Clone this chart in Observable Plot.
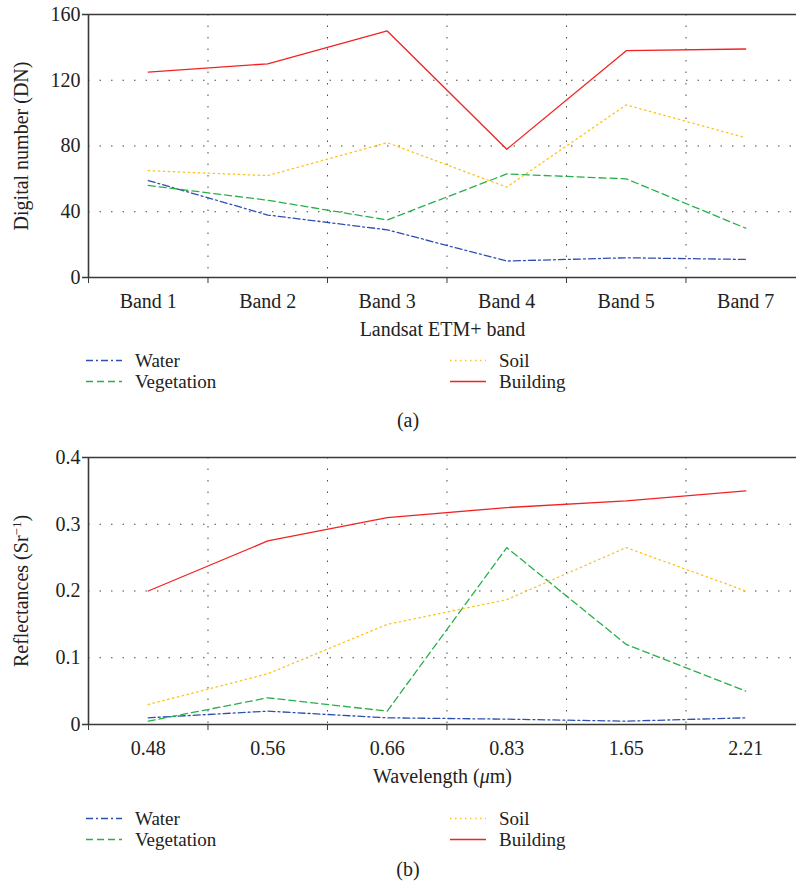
<!DOCTYPE html>
<html><head><meta charset="utf-8">
<script src="https://cdn.jsdelivr.net/npm/d3@7"></script>
<script src="https://cdn.jsdelivr.net/npm/@observablehq/plot@0.6"></script>
<style>
body{margin:0;background:#fff;font-family:"Liberation Serif",serif;color:#222}
#root{position:relative;width:796px;height:890px;overflow:hidden;background:#fff}
.panel{position:absolute;left:0}
.leg{position:absolute;font-size:19px;line-height:17px;white-space:nowrap;height:17px}
.leg svg{vertical-align:top}
.cap{position:absolute;font-size:20px;line-height:20px;transform:translateX(-50%)}
</style></head><body><div id="root"></div>
<script>
// ---- data ----
const seriesNames = ["Water", "Vegetation", "Soil", "Building"];
const seriesColors = ["#2f4fae", "#27b04a", "#ffc21a", "#f22222"];
const seriesDashes = ["7,3,2,3", "7,4", "1.5,3.5", null];

const bands = ["Band 1", "Band 2", "Band 3", "Band 4", "Band 5", "Band 7"];
const dnWater = [59, 38, 29, 10, 12, 11];
const dnVegetation = [56, 47, 35, 63, 60, 30];
const dnSoil = [65, 62, 82, 55, 105, 85];
const dnBuilding = [125, 130, 150, 78, 138, 139];
const dnTicks = [0, 40, 80, 120, 160];

const wavelengths = ["0.48", "0.56", "0.66", "0.83", "1.65", "2.21"];
const rfWater = [0.01, 0.02, 0.01, 0.008, 0.005, 0.01];
const rfVegetation = [0.005, 0.04, 0.02, 0.265, 0.12, 0.05];
const rfSoil = [0.03, 0.076, 0.15, 0.187, 0.265, 0.2];
const rfBuilding = [0.2, 0.275, 0.31, 0.325, 0.335, 0.35];
const rfTicks = [0, 0.1, 0.2, 0.3, 0.4];

const root = document.getElementById("root");
const AX = "#3a3a3a";
const GRID = "#4a4a4a";

function makePanel({cats, series, ticks, xLabel, yLabel, top, height, marginTop, marginBottom}) {
  const idx = cats.map((_, i) => i);
  const boundaries = d3.range(cats.length).map(i => i - 0.5);
  const inner = boundaries.slice(1);
  const ymax = ticks[ticks.length - 1];
  const lineMarks = series.map((arr, k) =>
    Plot.line(cats.map((c, i) => ({i, v: arr[i]})), {
      x: "i", y: "v", stroke: seriesColors[k], strokeWidth: 1.3,
      strokeDasharray: seriesDashes[k] || undefined
    })
  );
  const chart = Plot.plot({
    width: 796, height, marginTop, marginBottom, marginLeft: 88, marginRight: 0,
    style: {fontFamily: "Liberation Serif, serif", fontSize: "20px", color: "#222", background: "#fff"},
    x: {domain: [-0.5, cats.length - 0.575], axis: null},
    y: {domain: [0, ymax], axis: null},
    marks: [
      Plot.gridX(inner, {stroke: GRID, strokeOpacity: 1, strokeDasharray: "1.5,10"}),
      Plot.gridY(ticks.slice(1, -1), {stroke: GRID, strokeOpacity: 1, strokeDasharray: "1.5,10"}),
      ...lineMarks,
      Plot.ruleY([0, ymax], {stroke: AX, strokeWidth: 1.6, insetLeft: -6}),
      Plot.ruleX([-0.5], {stroke: AX, strokeWidth: 1.6}),
      Plot.axisX(boundaries, {tickSize: 6, tickFormat: () => "", label: null, stroke: AX}),
      Plot.axisX(idx, {tickSize: 0, tickPadding: 16, tickFormat: i => cats[i], label: xLabel,
        labelAnchor: "center", labelArrow: "none", labelOffset: 58}),
      Plot.axisY(ticks, {tickSize: 0, tickPadding: 8, tickFormat: d => String(d), label: yLabel,
        labelAnchor: "center", labelArrow: "none", labelOffset: 75})
    ]
  });
  chart.classList.add("panel");
  chart.style.position = "absolute";
  chart.style.top = top + "px";
  root.appendChild(chart);
  return chart;
}

function legend(top) {
  const cols = [86, 450];
  const layout = [[0, 0], [0, 1], [1, 0], [1, 1]];
  seriesNames.forEach((n, k) => {
    const [c, r] = layout[k];
    const y = top + r * 21.2;
    const el = document.createElement("div");
    el.className = "leg";
    el.style.left = cols[c] + "px";
    el.style.top = (y - 8.5) + "px";
    const dash = seriesDashes[k] ? `stroke-dasharray="${seriesDashes[k]}"` : "";
    el.innerHTML = `<svg width="36" height="17"><line x1="0" x2="36" y1="8.5" y2="8.5" stroke="${seriesColors[k]}" stroke-width="1.3" ${dash}/></svg><span style="margin-left:13px">${n}</span>`;
    root.appendChild(el);
  });
}
function caption(text, y) {
  const el = document.createElement("div");
  el.className = "cap";
  el.style.left = "408px";
  el.style.top = (y - 10) + "px";
  el.textContent = text;
  root.appendChild(el);
}

makePanel({cats: bands, series: [dnWater, dnVegetation, dnSoil, dnBuilding], ticks: dnTicks,
  xLabel: "Landsat ETM+ band", yLabel: "Digital number (DN)",
  top: 0, height: 345, marginTop: 14, marginBottom: 68});
const pb = makePanel({cats: wavelengths, series: [rfWater, rfVegetation, rfSoil, rfBuilding], ticks: rfTicks,
  xLabel: "Wavelength (μm)", yLabel: "Reflectances (Sr-1)",
  top: 445, height: 345, marginTop: 12, marginBottom: 66});
pb.querySelectorAll("text").forEach(t => {
  if (t.textContent === "Wavelength (μm)") t.innerHTML = 'Wavelength (<tspan font-style="italic">μ</tspan>m)';
  if (t.textContent === "Reflectances (Sr-1)") t.innerHTML = 'Reflectances (Sr<tspan baseline-shift="super" font-size="13">−1</tspan>)';
});
legend(360.5);
caption("(a)", 420);
legend(818.5);
caption("(b)", 869);
</script></body></html>
